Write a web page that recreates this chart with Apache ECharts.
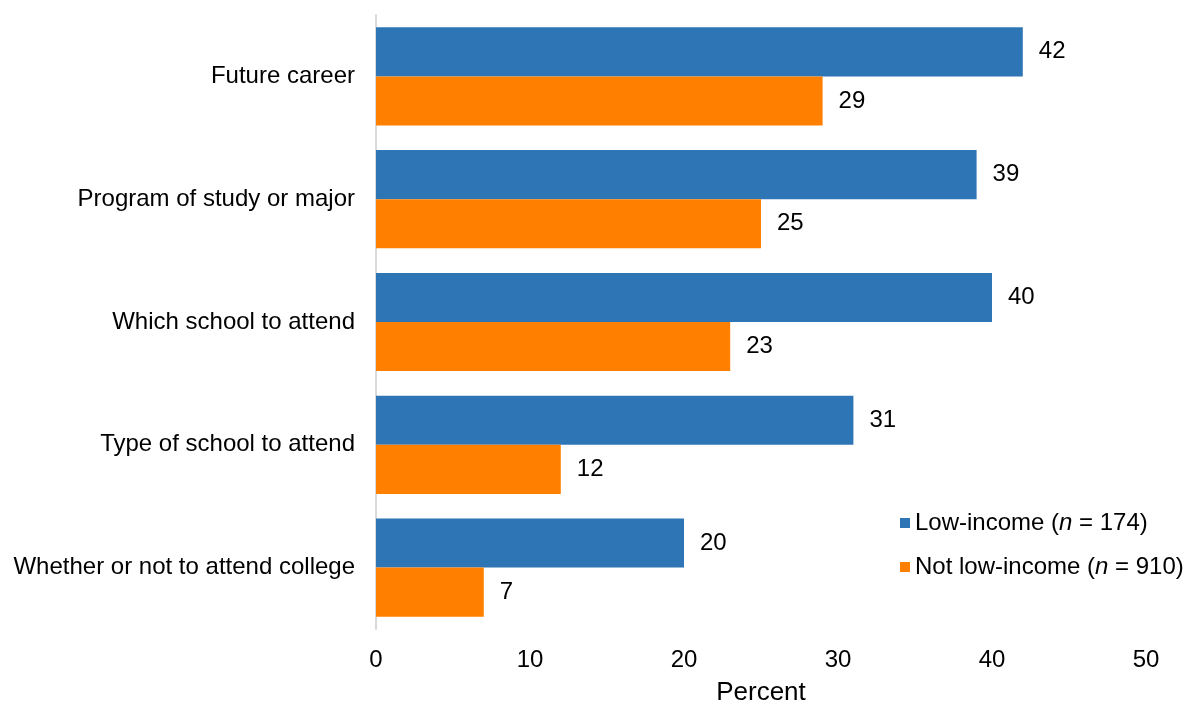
<!DOCTYPE html>
<html>
<head>
<meta charset="utf-8">
<script src="https://cdn.jsdelivr.net/npm/echarts@6/dist/echarts.min.js"></script>
<style>html,body{margin:0;padding:0;background:#fff}#c{width:1186px;height:706px}</style>
</head>
<body>
<div id="c"></div>
<script>
const categories = ['Future career', 'Program of study or major', 'Which school to attend', 'Type of school to attend', 'Whether or not to attend college'];
const lowIncome = [42, 39, 40, 31, 20];
const notLowIncome = [29, 25, 23, 12, 7];
const seriesNames = ['Low-income (n = 174)', 'Not low-income (n = 910)'];
const xTicks = [0, 10, 20, 30, 40, 50];

const chart = echarts.init(document.getElementById('c'));
const font = 'Liberation Sans, Arial, sans-serif';
const fs = 24;
const lbl = {show: true, position: 'right', distance: 16, color: '#000', fontSize: fs, fontFamily: font};
chart.setOption({
  animation: false,
  grid: {left: 376, right: 40, top: 15, bottom: 77, outerBoundsMode: 'none', containLabel: false},
  xAxis: {
    type: 'value', min: xTicks[0], max: xTicks[xTicks.length - 1], interval: 10,
    axisLine: {show: false}, axisTick: {show: false}, splitLine: {show: false},
    axisLabel: {color: '#000', fontSize: fs, fontFamily: font, margin: 19},
    name: 'Percent', nameLocation: 'middle', nameGap: 51,
    nameTextStyle: {color: '#000', fontSize: 26, fontFamily: font}
  },
  yAxis: {
    type: 'category', data: categories, inverse: true,
    axisLine: {show: true, lineStyle: {color: '#d9d9d9', width: 2}},
    axisTick: {show: false},
    axisLabel: {color: '#000', fontSize: fs, fontFamily: font, margin: 21}
  },
  legend: {
    orient: 'vertical', left: 895, top: 506, itemWidth: 10, itemHeight: 10, itemGap: 20,
    icon: 'rect',
    textStyle: {color: '#000', fontSize: fs, fontFamily: font,
      rich: {n: {fontStyle: 'italic', fontSize: fs, fontFamily: font, color: '#000'}}},
    formatter: function (name) { return name.replace('(n', '({n|n}'); }
  },
  series: [
    {name: seriesNames[0], type: 'bar', data: lowIncome, barGap: '0%', barCategoryGap: '20%',
     itemStyle: {color: '#2E75B6'}, label: lbl},
    {name: seriesNames[1], type: 'bar', data: notLowIncome, barGap: '0%', barCategoryGap: '20%',
     itemStyle: {color: '#FF8000'}, label: lbl}
  ]
});
</script>
</body>
</html>
